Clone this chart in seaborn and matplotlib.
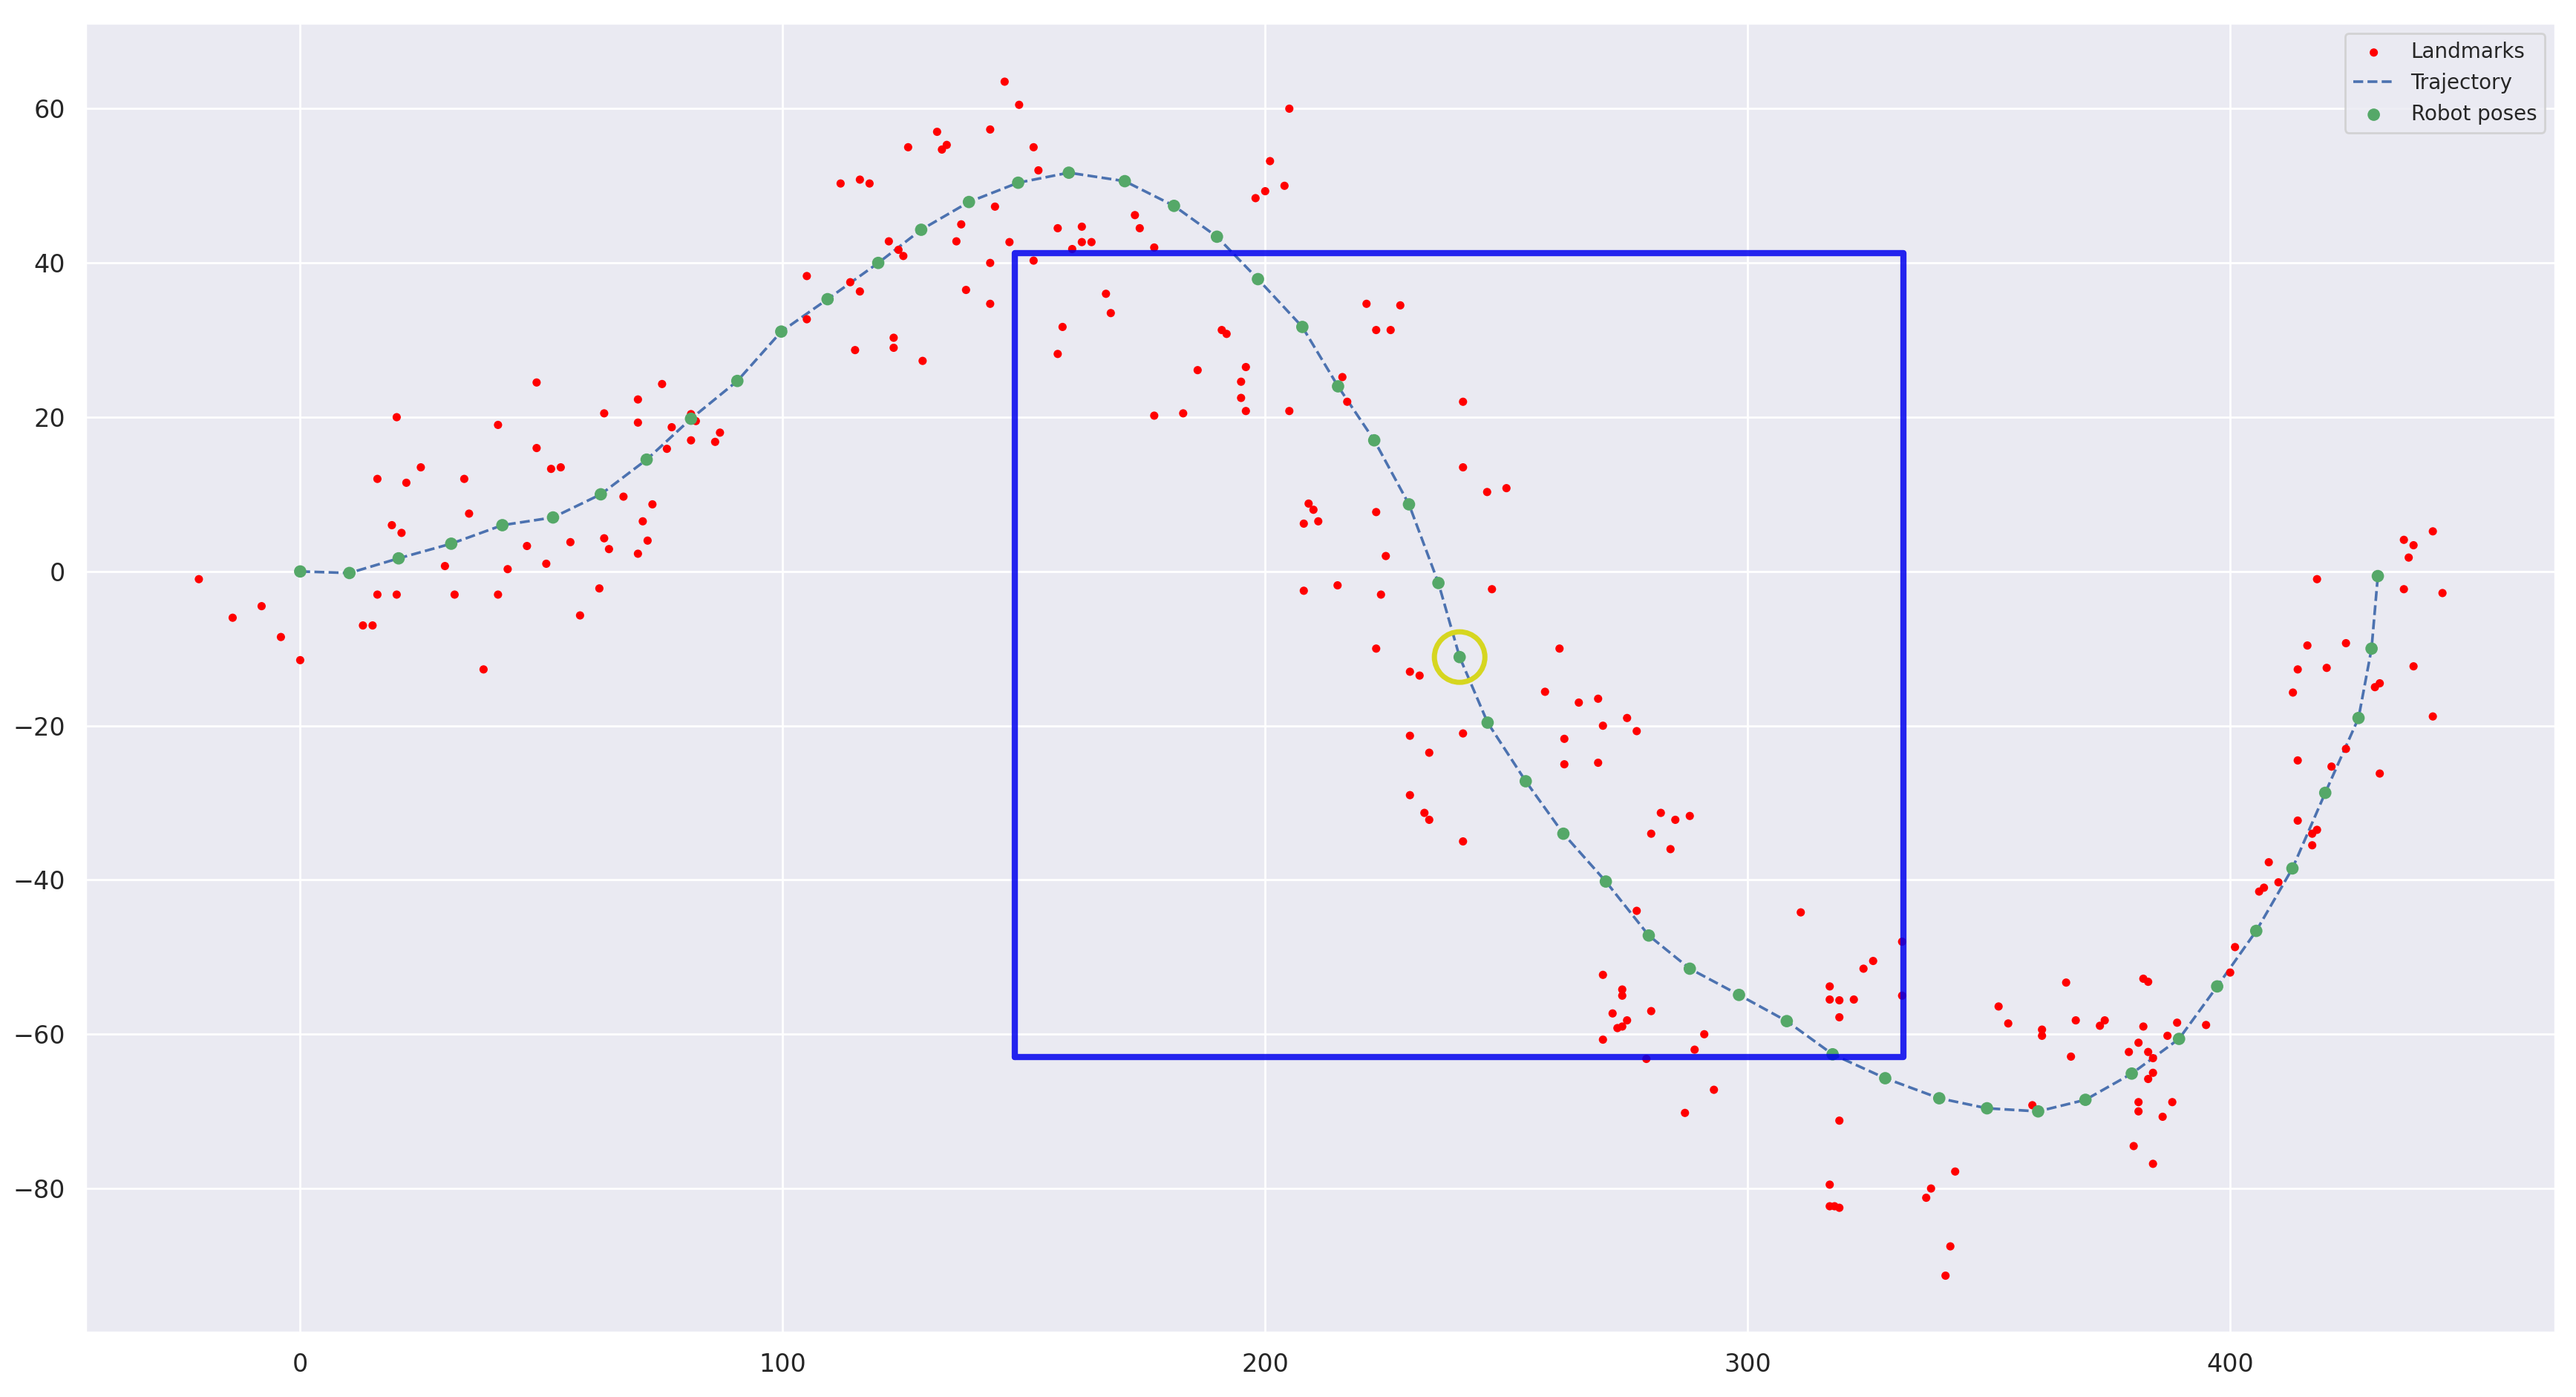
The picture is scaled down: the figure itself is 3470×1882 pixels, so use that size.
import matplotlib
matplotlib.use("Agg")
import matplotlib.pyplot as plt
import seaborn as sns
import pandas as pd

pose_x = [0,10.2,20.4,31.3,41.9,52.4,62.3,71.8,81.0,90.6,99.7,109.3,119.8,128.7,138.6,148.8,159.3,170.9,181.1,190.0,198.5,207.7,215.1,222.6,229.8,235.9,240.3,246.1,254.0,261.8,270.6,279.5,288.0,298.2,308.1,317.6,328.5,339.7,349.6,360.2,370.0,379.6,389.4,397.3,405.4,412.9,419.7,426.6,429.3,430.6]
pose_y = [0,-0.2,1.7,3.6,6.0,7.0,10.0,14.5,19.8,24.7,31.1,35.3,40.0,44.3,47.9,50.4,51.7,50.6,47.4,43.4,37.9,31.7,24.0,17.0,8.7,-1.5,-11.1,-19.6,-27.2,-34.0,-40.2,-47.2,-51.5,-54.9,-58.3,-62.6,-65.7,-68.3,-69.6,-70.0,-68.5,-65.1,-60.6,-53.8,-46.6,-38.5,-28.7,-19.0,-10.0,-0.6]

landmarks = [(-21,-1),(-14,-6),(-8,-4.5),(-4,-8.5),(0,-11.5),(13,-7),(15,-7),(16,12),(16,-3),(19,6),(20,20),(20,-3),(21,5),(22,11.5),(25,13.5),(30,0.7),(32,-3),(34,12),(35,7.5),(38,-12.7),(41,19),(41,-3),(43,0.3),(47,3.3),(49,16),(49,24.5),(51,1),(52,13.3),(54,13.5),(56,3.8),(58,-5.7),(62,-2.2),(63,4.3),(63,20.5),(64,2.9),(67,9.7),(70,22.3),(70,2.3),(70,19.3),(71,6.5),(72,4),(73,8.7),(75,24.3),(76,15.9),(77,18.7),(81,20.4),(81,17),(82,19.5),(86,16.8),(87,18),
(105,38.3),(105,32.7),(112,50.3),(114,37.5),(115,28.7),(116,36.3),(116,50.8),(118,50.3),(122,42.8),(123,30.3),(123,29),(124,41.7),(125,40.9),(126,55),(129,27.3),(132,57),(133,54.7),(134,55.3),(136,42.8),(137,45),(138,36.5),(143,57.3),(143,40),(143,34.7),(144,47.3),(146,63.5),(147,42.7),(149,60.5),(152,55),(152,40.3),(153,52),(157,44.5),(157,28.2),(158,31.7),(160,41.8),(162,44.7),(162,42.7),(164,42.7),(167,36),(168,33.5),(173,46.2),(174,44.5),(177,42),(177,20.2),(183,20.5),(186,26.1),(191,31.3),(192,30.8),(195,24.6),(195,22.5),(196,26.5),(196,20.8),(198,48.4),(200,49.3),(201,53.2),(204,50),(205,60),(205,20.8),
(208,6.2),(208,-2.5),(209,8.8),(210,8),(211,6.5),(215,-1.8),(216,25.2),(217,22),(221,34.7),(223,31.3),(223,7.7),(223,-10),(224,-3),(225,2),(226,31.3),(228,34.5),(230,-13),(230,-21.3),(230,-29),(232,-13.5),(233,-31.3),(234,-32.2),(234,-23.5),(241,22),(241,13.5),(241,-21),(241,-35),(246,10.3),(247,-2.3),(250,10.8),
(258,-15.6),(261,-10),(262,-21.7),(262,-25),(265,-17),(269,-24.8),(269,-16.5),(270,-20),(270,-52.3),(270,-60.7),(272,-57.3),(273,-59.2),(274,-59),(274,-55),(274,-54.2),(275,-19),(275,-58.2),(277,-20.7),(277,-44),(279,-63.2),(280,-34),(280,-57),(282,-31.3),(284,-36),(285,-32.2),(287,-70.2),(288,-31.7),(289,-62),(291,-60),(293,-67.2),
(311,-44.2),(317,-79.5),(317,-82.3),(317,-55.5),(317,-53.8),(318,-82.3),(319,-82.5),(319,-71.2),(319,-57.8),(319,-55.6),(322,-55.5),(324,-51.5),(326,-50.5),(332,-48),(332,-55),(337,-81.2),(338,-80),(341,-91.3),(342,-87.5),(343,-77.8),
(352,-56.4),(354,-58.6),(359,-69.2),(361,-59.4),(361,-60.2),(366,-53.3),(367,-62.9),(368,-58.2),(373,-58.9),(374,-58.2),(379,-62.3),(380,-74.5),(381,-61.1),(381,-68.8),(381,-70),(382,-52.8),(383,-53.2),(382,-59),(383,-65.8),(383,-62.3),(384,-63.1),(384,-65),(384,-76.8),(386,-70.7),(387,-60.2),(388,-68.8),(389,-58.5),(395,-58.8),
(400,-52),(401,-48.7),(406,-41.5),(407,-41),(408,-37.7),(410,-40.3),(413,-15.7),(414,-24.5),(414,-32.3),(414,-12.7),(416,-9.6),(417,-34),(417,-35.5),(418,-33.5),(418,-1),(420,-12.5),(421,-25.3),(424,-23),(424,-9.3),(430,-15),(431,-14.5),(431,-26.2),(436,4.1),(436,-2.3),(437,1.8),(438,-12.3),(438,3.4),(442,5.2),(442,-18.8),(444,-2.8)]
lm_x = [p[0] for p in landmarks]
lm_y = [p[1] for p in landmarks]

box_x = [148.1, 332.3]
box_y = [-63.0, 41.3]
highlight = (240.3, -11.1)

sns.set_theme(style="darkgrid")
fig = plt.figure(figsize=(17.35, 9.41), dpi=200)
ax = fig.add_axes([0.033, 0.046, 0.959, 0.9375])

sns.scatterplot(x=lm_x, y=lm_y, color="red", s=16, edgecolor="none", label="Landmarks", ax=ax, zorder=3)
sns.lineplot(x=pose_x, y=pose_y, sort=False, color="#4c72b0", linestyle="--", lw=1.3, label="Trajectory", ax=ax, zorder=2)
sns.scatterplot(x=pose_x, y=pose_y, color="#55a868", s=36, edgecolor="none", label="Robot poses", ax=ax, zorder=4)

ax.plot([box_x[0], box_x[1], box_x[1], box_x[0], box_x[0]],
        [box_y[0], box_y[0], box_y[1], box_y[1], box_y[0]], color="#0000ee", lw=3, alpha=0.85, zorder=5)
ax.scatter([highlight[0]], [highlight[1]], s=600, facecolors="none", edgecolors="#d6d620", linewidths=2.5, zorder=6)

ax.set_xlim(-44.6, 467.4)
ax.set_ylim(-98.7, 71.1)
ax.tick_params(labelsize=12)
ax.legend(loc="upper right", fontsize=10)
fig.savefig("out.png", dpi=200)
